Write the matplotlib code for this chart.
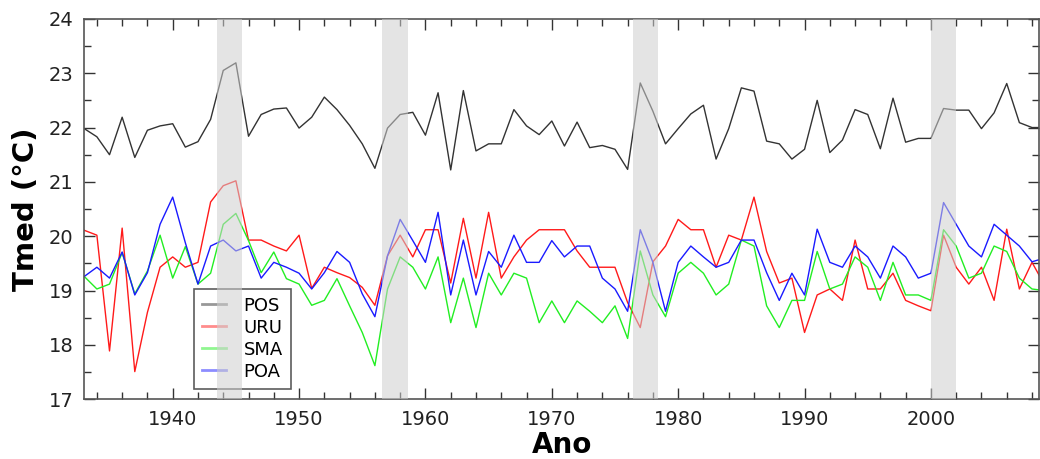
import matplotlib
matplotlib.use("Agg")
import matplotlib.pyplot as plt
import numpy as np
from matplotlib.ticker import MultipleLocator

years = np.arange(1933, 2010)

pos = [21.98, 21.83, 21.50, 22.19, 21.45, 21.95, 22.03, 22.07, 21.64, 21.74,
       22.15, 23.05, 23.19, 21.84, 22.24, 22.34, 22.36, 21.99, 22.19, 22.56,
       22.33, 22.04, 21.70, 21.25, 21.99, 22.24, 22.28, 21.86, 22.64, 21.22,
       22.68, 21.57, 21.70, 21.70, 22.33, 22.03, 21.87, 22.12, 21.66, 22.10,
       21.63, 21.67, 21.60, 21.23, 22.82, 22.30, 21.70, 21.98, 22.25, 22.41,
       21.42, 21.98, 22.73, 22.67, 21.75, 21.70, 21.42, 21.60, 22.50, 21.54,
       21.77, 22.33, 22.24, 21.61, 22.54, 21.73, 21.80, 21.80, 22.35, 22.32,
       22.32, 21.98, 22.27, 22.81, 22.09, 22.00, 22.00]

uru = [20.11, 20.02, 17.89, 20.15, 17.51, 18.60, 19.43, 19.62, 19.43, 19.52,
       20.63, 20.93, 21.02, 19.93, 19.93, 19.82, 19.73, 20.02, 19.04, 19.43,
       19.33, 19.24, 19.06, 18.73, 19.64, 20.02, 19.62, 20.12, 20.12, 19.14,
       20.33, 19.23, 20.44, 19.23, 19.62, 19.93, 20.12, 20.12, 20.12, 19.73,
       19.43, 19.43, 19.43, 18.78, 18.32, 19.53, 19.82, 20.31, 20.12, 20.12,
       19.43, 20.02, 19.93, 20.72, 19.72, 19.14, 19.23, 18.23, 18.92, 19.03,
       18.82, 19.93, 19.03, 19.03, 19.32, 18.82, 18.72, 18.63, 20.02, 19.43,
       19.12, 19.43, 18.82, 20.13, 19.03, 19.52, 19.10]

sma = [19.26, 19.03, 19.12, 19.70, 18.94, 19.36, 20.02, 19.23, 19.81, 19.12,
       19.32, 20.22, 20.42, 19.92, 19.33, 19.71, 19.22, 19.12, 18.73, 18.82,
       19.22, 18.72, 18.23, 17.62, 19.03, 19.62, 19.43, 19.03, 19.62, 18.41,
       19.23, 18.32, 19.32, 18.92, 19.32, 19.23, 18.41, 18.81, 18.41, 18.81,
       18.62, 18.41, 18.72, 18.12, 19.73, 18.92, 18.52, 19.32, 19.52, 19.32,
       18.92, 19.12, 19.93, 19.82, 18.72, 18.32, 18.82, 18.82, 19.72, 19.03,
       19.12, 19.62, 19.43, 18.82, 19.52, 18.92, 18.92, 18.82, 20.12, 19.82,
       19.23, 19.32, 19.82, 19.72, 19.23, 19.03, 19.00]

poa = [19.26, 19.43, 19.23, 19.71, 18.92, 19.33, 20.22, 20.72, 19.88, 19.12,
       19.82, 19.93, 19.73, 19.82, 19.23, 19.52, 19.43, 19.32, 19.03, 19.33,
       19.72, 19.52, 18.94, 18.52, 19.64, 20.31, 19.92, 19.52, 20.44, 18.92,
       19.93, 18.92, 19.72, 19.43, 20.02, 19.52, 19.52, 19.92, 19.62, 19.82,
       19.82, 19.23, 19.03, 18.62, 20.12, 19.52, 18.62, 19.52, 19.82, 19.62,
       19.43, 19.52, 19.93, 19.93, 19.33, 18.82, 19.32, 18.92, 20.13, 19.52,
       19.43, 19.82, 19.62, 19.23, 19.82, 19.62, 19.23, 19.32, 20.62, 20.22,
       19.82, 19.62, 20.22, 20.02, 19.82, 19.53, 19.60]

# periodos destacados (inicio, fim)
bands = [(1943.5, 1945.5), (1956.6, 1958.6), (1976.4, 1978.4), (2000.0, 2002.0)]

fig = plt.figure(figsize=(10.4, 4.59), dpi=100)
ax = fig.add_axes([0.081, 0.13, 0.918, 0.829])

ax.plot(years, pos, color="#333333", lw=1.0, label="POS")
ax.plot(years, uru, color="#ff1a1a", lw=1.0, label="URU")
ax.plot(years, sma, color="#22ee22", lw=1.0, label="SMA")
ax.plot(years, poa, color="#1a1aff", lw=1.0, label="POA")

for a, b in bands:
    ax.axvspan(a, b, facecolor="#cfcfcf", alpha=0.55, lw=0, zorder=5)

ax.set_xlim(1933, 2008.55)
ax.set_ylim(17, 24)
ax.xaxis.set_major_locator(MultipleLocator(10))
ax.xaxis.set_minor_locator(MultipleLocator(2))
ax.yaxis.set_major_locator(MultipleLocator(1))
ax.yaxis.set_minor_locator(MultipleLocator(0.5))
ax.tick_params(which="both", direction="in", top=True, right=True,
               colors="#333333", labelcolor="#222222", labelsize=14, width=1.0)
ax.tick_params(which="major", length=8)
ax.tick_params(which="minor", length=5)
ax.tick_params(axis="y", which="major", pad=8)
ax.tick_params(axis="x", which="major", pad=8)
for s in ax.spines.values():
    s.set_color("#555555")
    s.set_linewidth(1.2)

ax.set_xlabel("Ano", fontsize=20, fontweight="bold", labelpad=1)
ax.set_ylabel("Tmed (°C)", fontsize=21, fontweight="bold", labelpad=6)

leg = ax.legend(loc="lower left", bbox_to_anchor=(0.115, 0.028), frameon=True,
                fancybox=False, fontsize=13, handlelength=1.3,
                labelspacing=0.22, borderpad=0.45, handletextpad=1.0,
                borderaxespad=0)
leg.get_frame().set_edgecolor("#333333")
leg.get_frame().set_facecolor("none")
leg.get_frame().set_linewidth(1.2)
for h in leg.get_lines():
    h.set_alpha(0.5)
    h.set_linewidth(2)
leg.set_zorder(4)

fig.savefig("out.png", dpi=100)
